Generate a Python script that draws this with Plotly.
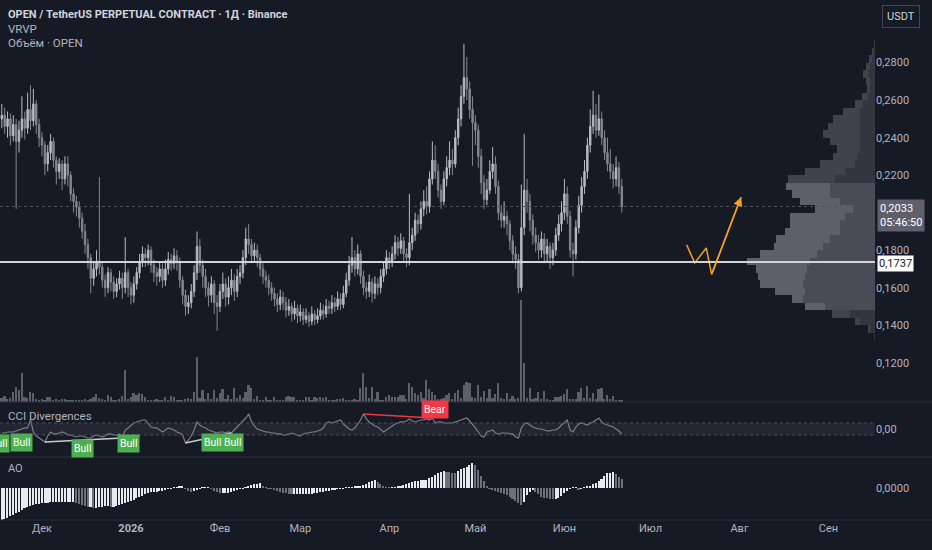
import pandas as pd
import plotly.graph_objects as go

BG = "#161a25"
TXT = "#b2b5be"
FONT = "Roboto"

# ---------------- data ----------------
dates = pd.date_range("2025-11-17", periods=217, freq="D")

opens = [
    0.250, 0.252, 0.246, 0.250, 0.241, 0.247, 0.238, 0.244, 0.250, 0.245,
    0.255, 0.249, 0.258, 0.247, 0.240, 0.236, 0.226, 0.232, 0.238, 0.228,
    0.222, 0.226, 0.218, 0.226, 0.220, 0.210, 0.206, 0.203, 0.197, 0.190,
    0.183, 0.176, 0.165, 0.170, 0.174, 0.171, 0.164, 0.160, 0.168, 0.163,
    0.158, 0.162, 0.165, 0.160, 0.168, 0.160, 0.156, 0.162, 0.168, 0.174,
    0.178, 0.176, 0.180, 0.172, 0.168, 0.166, 0.170, 0.164, 0.170, 0.175,
    0.173, 0.177, 0.174, 0.164, 0.156, 0.150, 0.152, 0.158, 0.168, 0.182,
    0.172, 0.166, 0.160, 0.156, 0.162, 0.152, 0.150, 0.158, 0.162, 0.155,
    0.160, 0.164, 0.158, 0.166, 0.168, 0.176, 0.186, 0.183, 0.177, 0.180,
    0.176, 0.170, 0.166, 0.164, 0.160, 0.157, 0.154, 0.151, 0.155, 0.152,
    0.148, 0.150, 0.146, 0.149, 0.145, 0.147, 0.143, 0.145, 0.142, 0.146,
    0.143, 0.145, 0.148, 0.146, 0.150, 0.149, 0.152, 0.150, 0.154, 0.151,
    0.157, 0.164, 0.172, 0.176, 0.170, 0.178, 0.166, 0.160, 0.158, 0.163,
    0.157, 0.162, 0.160, 0.166, 0.170, 0.176, 0.174, 0.178, 0.184, 0.181,
    0.185, 0.178, 0.176, 0.184, 0.188, 0.196, 0.194, 0.202, 0.206, 0.203,
    0.218, 0.228, 0.222, 0.212, 0.206, 0.218, 0.224, 0.228, 0.226, 0.240,
    0.250, 0.262, 0.272, 0.266, 0.255, 0.248, 0.244, 0.230, 0.216, 0.207,
    0.212, 0.222, 0.226, 0.214, 0.200, 0.196, 0.198, 0.194, 0.185, 0.178,
    0.175, 0.160, 0.192, 0.212, 0.206, 0.196, 0.188, 0.184, 0.180, 0.186,
    0.178, 0.182, 0.176, 0.180, 0.188, 0.194, 0.200, 0.210, 0.198, 0.180,
    0.178, 0.192, 0.204, 0.214, 0.222, 0.236, 0.246, 0.252, 0.244, 0.250,
    0.240, 0.232, 0.226, 0.222, 0.218, 0.224, 0.214,
]
highs = [
    0.258, 0.256, 0.254, 0.253, 0.252, 0.250, 0.249, 0.262, 0.254, 0.264,
    0.268, 0.266, 0.260, 0.250, 0.243, 0.238, 0.236, 0.242, 0.240, 0.230,
    0.229, 0.228, 0.230, 0.230, 0.222, 0.213, 0.209, 0.206, 0.200, 0.194,
    0.186, 0.178, 0.174, 0.180, 0.219, 0.174, 0.167, 0.171, 0.170, 0.166,
    0.165, 0.169, 0.168, 0.187, 0.170, 0.163, 0.166, 0.171, 0.178, 0.182,
    0.181, 0.183, 0.182, 0.175, 0.171, 0.174, 0.173, 0.175, 0.179, 0.178,
    0.181, 0.180, 0.176, 0.166, 0.159, 0.156, 0.162, 0.172, 0.190, 0.186,
    0.175, 0.170, 0.163, 0.166, 0.164, 0.156, 0.162, 0.168, 0.165, 0.166,
    0.170, 0.167, 0.170, 0.172, 0.180, 0.192, 0.194, 0.186, 0.184, 0.183,
    0.178, 0.173, 0.169, 0.167, 0.163, 0.160, 0.157, 0.159, 0.158, 0.155,
    0.154, 0.152, 0.153, 0.151, 0.151, 0.149, 0.149, 0.147, 0.150, 0.148,
    0.149, 0.152, 0.151, 0.154, 0.153, 0.156, 0.155, 0.158, 0.157, 0.161,
    0.168, 0.177, 0.187, 0.180, 0.183, 0.180, 0.169, 0.163, 0.167, 0.165,
    0.166, 0.165, 0.170, 0.174, 0.180, 0.179, 0.182, 0.188, 0.187, 0.189,
    0.187, 0.181, 0.210, 0.192, 0.200, 0.199, 0.206, 0.212, 0.214, 0.222,
    0.238, 0.236, 0.226, 0.215, 0.222, 0.230, 0.238, 0.234, 0.244, 0.256,
    0.268, 0.290, 0.283, 0.270, 0.262, 0.252, 0.247, 0.234, 0.220, 0.218,
    0.228, 0.235, 0.230, 0.217, 0.204, 0.206, 0.201, 0.196, 0.188, 0.182,
    0.178, 0.215, 0.242, 0.218, 0.210, 0.199, 0.192, 0.188, 0.190, 0.189,
    0.186, 0.184, 0.184, 0.192, 0.199, 0.206, 0.218, 0.214, 0.201, 0.184,
    0.196, 0.209, 0.219, 0.228, 0.240, 0.255, 0.265, 0.258, 0.263, 0.254,
    0.244, 0.240, 0.234, 0.226, 0.230, 0.227, 0.218,
]
lows = [
    0.245, 0.242, 0.240, 0.236, 0.238, 0.202, 0.232, 0.240, 0.239, 0.242,
    0.244, 0.246, 0.242, 0.235, 0.230, 0.220, 0.222, 0.228, 0.224, 0.215,
    0.218, 0.212, 0.215, 0.214, 0.206, 0.200, 0.198, 0.192, 0.186, 0.178,
    0.170, 0.157, 0.161, 0.166, 0.167, 0.160, 0.155, 0.157, 0.158, 0.154,
    0.155, 0.159, 0.154, 0.157, 0.155, 0.151, 0.152, 0.159, 0.165, 0.171,
    0.171, 0.172, 0.168, 0.163, 0.161, 0.163, 0.160, 0.161, 0.167, 0.169,
    0.170, 0.169, 0.160, 0.151, 0.145, 0.146, 0.149, 0.155, 0.164, 0.168,
    0.160, 0.155, 0.150, 0.152, 0.146, 0.137, 0.147, 0.154, 0.150, 0.151,
    0.156, 0.153, 0.155, 0.162, 0.165, 0.172, 0.178, 0.173, 0.174, 0.171,
    0.166, 0.162, 0.160, 0.156, 0.153, 0.150, 0.147, 0.148, 0.148, 0.144,
    0.145, 0.142, 0.143, 0.141, 0.142, 0.140, 0.141, 0.139, 0.140, 0.140,
    0.141, 0.143, 0.143, 0.144, 0.146, 0.146, 0.147, 0.148, 0.148, 0.149,
    0.155, 0.161, 0.168, 0.166, 0.167, 0.162, 0.156, 0.154, 0.155, 0.152,
    0.154, 0.156, 0.157, 0.163, 0.167, 0.170, 0.171, 0.175, 0.177, 0.178,
    0.174, 0.171, 0.172, 0.180, 0.185, 0.189, 0.191, 0.198, 0.199, 0.200,
    0.215, 0.218, 0.208, 0.202, 0.204, 0.214, 0.220, 0.220, 0.224, 0.236,
    0.246, 0.258, 0.260, 0.250, 0.225, 0.236, 0.224, 0.210, 0.202, 0.204,
    0.210, 0.218, 0.210, 0.196, 0.192, 0.192, 0.188, 0.180, 0.173, 0.170,
    0.157, 0.158, 0.188, 0.200, 0.190, 0.183, 0.179, 0.175, 0.176, 0.173,
    0.174, 0.170, 0.172, 0.177, 0.185, 0.190, 0.196, 0.194, 0.176, 0.166,
    0.175, 0.189, 0.200, 0.210, 0.218, 0.232, 0.242, 0.240, 0.241, 0.236,
    0.228, 0.222, 0.218, 0.213, 0.214, 0.210, 0.200,
]
closes = [
    0.252, 0.246, 0.250, 0.241, 0.247, 0.238, 0.244, 0.250, 0.245, 0.255,
    0.249, 0.258, 0.247, 0.240, 0.236, 0.226, 0.232, 0.238, 0.228, 0.222,
    0.226, 0.218, 0.226, 0.220, 0.210, 0.206, 0.203, 0.197, 0.190, 0.183,
    0.176, 0.165, 0.170, 0.174, 0.171, 0.164, 0.160, 0.168, 0.163, 0.158,
    0.162, 0.165, 0.160, 0.168, 0.160, 0.156, 0.162, 0.168, 0.174, 0.178,
    0.176, 0.180, 0.172, 0.168, 0.166, 0.170, 0.164, 0.170, 0.175, 0.173,
    0.177, 0.174, 0.164, 0.156, 0.150, 0.152, 0.158, 0.168, 0.182, 0.172,
    0.166, 0.160, 0.156, 0.162, 0.152, 0.150, 0.158, 0.162, 0.155, 0.160,
    0.164, 0.158, 0.166, 0.168, 0.176, 0.186, 0.183, 0.177, 0.180, 0.176,
    0.170, 0.166, 0.164, 0.160, 0.157, 0.154, 0.151, 0.155, 0.152, 0.148,
    0.150, 0.146, 0.149, 0.145, 0.147, 0.143, 0.145, 0.142, 0.146, 0.143,
    0.145, 0.148, 0.146, 0.150, 0.149, 0.152, 0.150, 0.154, 0.151, 0.157,
    0.164, 0.172, 0.176, 0.170, 0.178, 0.166, 0.160, 0.158, 0.163, 0.157,
    0.162, 0.160, 0.166, 0.170, 0.176, 0.174, 0.178, 0.184, 0.181, 0.185,
    0.178, 0.176, 0.184, 0.188, 0.196, 0.194, 0.202, 0.206, 0.203, 0.218,
    0.228, 0.222, 0.212, 0.206, 0.218, 0.224, 0.228, 0.226, 0.240, 0.250,
    0.262, 0.272, 0.266, 0.255, 0.248, 0.244, 0.230, 0.216, 0.207, 0.212,
    0.222, 0.226, 0.214, 0.200, 0.196, 0.198, 0.194, 0.185, 0.178, 0.175,
    0.160, 0.192, 0.212, 0.206, 0.196, 0.188, 0.184, 0.180, 0.186, 0.178,
    0.182, 0.176, 0.180, 0.188, 0.194, 0.200, 0.210, 0.198, 0.180, 0.178,
    0.192, 0.204, 0.214, 0.222, 0.236, 0.246, 0.252, 0.244, 0.250, 0.240,
    0.232, 0.226, 0.222, 0.218, 0.224, 0.214, 0.2033,
]
volume_m = [
    4, 6, 3, 4, 10, 15, 12, 29, 5, 4,
    10, 9, 3, 2, 3, 2, 5, 5, 2, 3,
    2, 3, 3, 2, 2, 2, 2, 2, 2, 3,
    2, 3, 5, 8, 4, 3, 2, 7, 5, 2,
    2, 3, 6, 32, 3, 5, 9, 7, 9, 8,
    5, 2, 2, 2, 3, 2, 2, 5, 2, 6,
    5, 2, 2, 2, 3, 4, 3, 10, 45, 4,
    12, 3, 9, 3, 12, 4, 9, 13, 3, 7,
    3, 14, 4, 7, 4, 10, 17, 14, 3, 6,
    2, 2, 5, 2, 2, 5, 2, 2, 2, 5,
    6, 5, 5, 2, 2, 2, 5, 5, 2, 5,
    4, 5, 4, 5, 2, 2, 2, 3, 3, 4,
    2, 2, 2, 3, 2, 14, 29, 15, 4, 15,
    3, 10, 2, 2, 5, 7, 5, 5, 5, 7,
    7, 3, 19, 15, 9, 7, 10, 4, 22, 13,
    10, 7, 3, 3, 4, 7, 9, 3, 9, 12,
    4, 17, 20, 19, 5, 4, 17, 5, 11, 4,
    13, 4, 8, 19, 4, 3, 9, 3, 6, 3,
    4, 102, 39, 4, 14, 3, 4, 10, 3, 11,
    3, 2, 2, 5, 5, 6, 8, 13, 3, 3,
    3, 10, 14, 4, 16, 4, 9, 3, 13, 14,
    3, 7, 3, 6, 2, 2, 2,
]
cci = [
    -67, -67, -50, -50, -50, -33, -17, 0, 17, 17,
    150, -50, -117, -150, -183, -217, -117, -50, -83, -83,
    -67, -50, -67, -100, -100, -117, -133, -117, -117, -133,
    -150, -150, -117, -100, -117, -133, -117, -83, -83, -100,
    -100, -83, -150, -17, 17, 67, 100, 117, 133, 150,
    150, 83, 33, 17, 17, -17, -50, -17, 17, 0,
    -17, -50, -67, -100, -233, -183, -117, -17, 117, 67,
    33, 17, -17, -33, -50, -67, -50, -50, -67, -50,
    -67, -17, 17, 67, 117, 183, 250, 117, 50, 0,
    -17, -33, -50, -50, -67, -67, -83, -83, -100, -100,
    -83, -67, -83, -100, -117, -83, -67, -67, -50, -50,
    -33, -17, 17, 100, 117, 100, 117, 133, 150, 83,
    33, 0, -17, 17, 83, 150, 250, 167, 117, 83,
    50, 33, -17, -50, -17, 17, 50, 83, 100, 117,
    117, 133, 167, 133, 117, 133, 150, 150, 167, 150,
    183, 100, 117, 117, 100, 100, 100, 100, 117, 133,
    150, 167, 183, 133, 83, 17, -50, -117, -133, -50,
    -33, -17, -67, -83, -67, -67, -67, -83, -83, -133,
    -150, 17, 83, 100, 67, 33, 17, 0, 0, -17,
    -33, -33, -17, -17, 17, 67, 117, 150, -17, -50,
    33, 83, 100, 83, 67, 100, 117, 150, 183, 117,
    83, 67, 50, 33, 0, -33, -83,
]
ao_milli = [
    -32, -31, -30, -28, -27, -25, -24, -22, -20, -19,
    -18, -17, -16, -16, -15, -15, -15, -14, -14, -14,
    -14, -14, -14, -14, -14, -14, -15, -16, -17, -18,
    -19, -19, -20, -20, -19, -19, -18, -18, -19, -19,
    -18, -17, -16, -15, -14, -13, -12, -10, -9, -8,
    -6, -5, -4, -4, -4, -3, -3, -2, -1, -0.5,
    0.3, 0.8, 1.2, 2, -1, -3, -4, -3, -2, -0.5,
    0.5, 1, 1, -1, -3, -4, -5, -5, -5, -4.5,
    -4, -3, -2, -1, -0.3, 1, 2, 3, 4, 4.5,
    5, 2, 1, -0.3, -1, -2, -3, -4, -4.5, -5,
    -5.5, -6, -6, -6, -6, -6, -6, -6, -6, -5,
    -4.5, -4, -3.5, -3, -2.5, -2, -1.5, -1, -0.5, -0.2,
    0.3, 0.6, 1, 1.2, 1.5, 2, 3, 4.5, 6, 7,
    8, 6, 4, 2.5, 1, 0.3, 0.6, 1, 1.5, 2,
    3, 4, 5, 6.5, 7, 7.5, 8, 8, 8.5, 10,
    11, 13, 15, 16, 17, 16.5, 16, 15.5, 15, 17,
    19, 20, 21, 23, 25, 23, 18, 12, 7, 2,
    -0.5, -1.5, -2.5, -3.5, -4.5, -5.5, -7, -8.5, -10.5, -13,
    -15, -17, -14, -7, -4, -2, -3.5, -6, -8.5, -9.5,
    -10, -10.5, -11, -10.5, -9.5, -7.5, -5, -3, -1, 0.5,
    1, -1.5, -0.5, 0.5, 1.5, 2.5, 4, 5.5, 7.5, 9.5,
    12, 15, 15.5, 16, 14, 11.5, 9,
]
ao = [v / 1000 for v in ao_milli]

# visible-range volume profile (price rows)
vp_price = [0.290, 0.286, 0.282, 0.278, 0.274, 0.270, 0.266, 0.262, 0.258, 0.254,
            0.250, 0.246, 0.242, 0.238, 0.234, 0.230, 0.226, 0.222, 0.218, 0.214,
            0.210, 0.206, 0.202, 0.198, 0.194, 0.190, 0.186, 0.182, 0.178, 0.174,
            0.170, 0.166, 0.162, 0.158, 0.154, 0.150, 0.146, 0.142, 0.138, 0.134]
vp_total = [1, 3, 6, 9, 12, 9, 8, 13, 20, 32,
            42, 47, 52, 45, 38, 42, 55, 70, 87, 89,
            83, 75, 60, 85, 85, 90, 99, 101, 115, 128,
            119, 117, 115, 100, 83, 70, 43, 20, 7, 1]
vp_up = [1, 2, 3, 5, 6, 5, 5, 7, 12, 15,
         15, 15, 15, 15, 15, 18, 20, 30, 40, 45,
         45, 35, 22, 30, 35, 35, 45, 52, 58, 65,
         68, 70, 72, 70, 72, 50, 25, 15, 5, 1]
value_area = (0.150, 0.2145)
poc_price = 0.1737
last_price = 0.2033

price_ticks = [0.12, 0.14, 0.16, 0.18, 0.22, 0.24, 0.26, 0.28]
price_tick_text = ["0,1200", "0,1400", "0,1600", "0,1800", "0,2200", "0,2400", "0,2600", "0,2800"]
month_ticks = ["2025-12-01", "2026-01-01", "2026-02-01", "2026-03-01", "2026-04-01",
               "2026-05-01", "2026-06-01", "2026-07-01", "2026-08-01", "2026-09-01"]
month_labels = ["Дек", "<b>2026</b>", "Фев", "Мар", "Апр", "Май", "Июн", "Июл", "Авг", "Сен"]

bull_pairs = [(15, 42), (64, 80)]
bear_pairs = [(126, 150)]
# (date, CCI level, text, horizontal pixel nudge)
bull_labels = [("2025-11-16 12:00", -250, "Bull", -2), ("2025-11-24", -233, "Bull", 0),
               ("2025-12-15", -317, "Bull", 0), ("2025-12-31", -250, "Bull", 0),
               ("2026-02-02", -233, "Bull Bull", 0)]
bear_labels = [("2026-04-17", 333, "Bear", 0)]

draw_dates = ["2026-07-13 14:00", "2026-07-16 10:00", "2026-07-20 10:00",
              "2026-07-22 07:00", "2026-08-01 14:00"]
draw_prices = [0.1828, 0.1732, 0.1812, 0.1671, 0.2084]

# ---------------- figure ----------------
fig = go.Figure()

lo, hi = value_area
vp_down = [t - u for t, u in zip(vp_total, vp_up)]
up_cols = ["#494c56" if lo <= p <= hi else "#33363f" for p in vp_price]
dn_cols = ["#5d6069" if lo <= p <= hi else "#40434c" for p in vp_price]
fig.add_trace(go.Bar(x=vp_up, y=vp_price, orientation="h", xaxis="x2", yaxis="y",
                     width=0.004, marker=dict(color=up_cols, line=dict(width=0)),
                     hoverinfo="skip"))
fig.add_trace(go.Bar(x=vp_down, y=vp_price, orientation="h", xaxis="x2", yaxis="y",
                     width=0.004, marker=dict(color=dn_cols, line=dict(width=0)),
                     hoverinfo="skip"))

fig.add_trace(go.Bar(x=dates, y=volume_m, xaxis="x", yaxis="y2",
                     width=0.6 * 86400000, marker=dict(color="#5d606b", line=dict(width=0))))

fig.add_trace(go.Candlestick(
    x=dates, open=opens, high=highs, low=lows, close=closes, xaxis="x", yaxis="y",
    increasing=dict(line=dict(color="#b8bbc2", width=1), fillcolor="#b8bbc2"),
    decreasing=dict(line=dict(color="#848791", width=1), fillcolor="#848791"),
    whiskerwidth=0))

fig.add_trace(go.Scatter(x=draw_dates, y=draw_prices, mode="lines", xaxis="x", yaxis="y",
                         line=dict(color="#f5a11c", width=1.5)))

# CCI
fig.add_trace(go.Scatter(x=dates, y=cci, mode="lines", xaxis="x", yaxis="y3",
                         line=dict(color="#7b7e88", width=1.2)))
for a, b in bull_pairs:
    fig.add_trace(go.Scatter(x=[dates[a], dates[b]], y=[cci[a], cci[b]], mode="lines",
                             xaxis="x", yaxis="y3", line=dict(color="#c8cad0", width=1.5)))
for a, b in bear_pairs:
    fig.add_trace(go.Scatter(x=[dates[a], dates[b]], y=[cci[a], cci[b]], mode="lines",
                             xaxis="x", yaxis="y3", line=dict(color="#f23645", width=1.5)))

# AO
ao_cols = ["#e8e9ec"] + ["#e8e9ec" if ao[i] >= ao[i - 1] else "#6e717b" for i in range(1, len(ao))]
fig.add_trace(go.Bar(x=dates, y=ao, xaxis="x", yaxis="y4", width=0.55 * 86400000,
                     marker=dict(color=ao_cols, line=dict(width=0))))

H = 520.0
d_price = [(H - 402) / H, 1]
d_cci = [(H - 457) / H, (H - 402) / H]
d_ao = [0, (H - 457) / H]
axfont = dict(color=TXT, size=11, family=FONT)

fig.update_layout(
    width=932, height=550,
    margin=dict(l=0, r=57, t=0, b=30),
    paper_bgcolor=BG, plot_bgcolor=BG,
    showlegend=False, barmode="stack", bargap=0,
    font=dict(family=FONT, color=TXT),
    xaxis=dict(domain=[0, 1], type="date", range=["2025-11-16 09:00", "2026-09-17 05:00"],
               anchor="y4", showgrid=False, zeroline=False, showline=False, ticks="",
               tickvals=month_ticks, ticktext=month_labels, tickfont=axfont,
               rangeslider=dict(visible=False)),
    xaxis2=dict(overlaying="x", range=[875, 0], visible=False, anchor="y"),
    yaxis=dict(domain=d_price, range=[0.09904, 0.3134], side="right", anchor="x",
               tickvals=price_ticks, ticktext=price_tick_text, showgrid=False,
               zeroline=False, ticks="", tickfont=axfont),
    yaxis2=dict(overlaying="y", range=[0, 402], visible=False),
    yaxis3=dict(domain=d_cci, range=[-467, 450], side="right", anchor="x",
                tickvals=[0], ticktext=["0,00"], showgrid=False, zeroline=False,
                ticks="", tickfont=axfont),
    yaxis4=dict(domain=d_ao, range=[-0.032, 0.031], side="right", anchor="x",
                tickvals=[0], ticktext=["0,0000"], showgrid=False, zeroline=False,
                ticks="", tickfont=axfont),
)

shapes = [
    dict(type="rect", xref="paper", yref="y3", x0=0, x1=1, y0=-100, y1=100,
         fillcolor="rgba(120,123,134,0.13)", line=dict(width=0), layer="below"),
    dict(type="line", xref="paper", yref="y3", x0=0, x1=1, y0=100, y1=100,
         line=dict(color="#4a4e59", width=1, dash="dot")),
    dict(type="line", xref="paper", yref="y3", x0=0, x1=1, y0=-100, y1=-100,
         line=dict(color="#4a4e59", width=1, dash="dot")),
    dict(type="line", xref="paper", yref="y", x0=0, x1=1, y0=last_price, y1=last_price,
         line=dict(color="#4f525c", width=1, dash="dot")),
    dict(type="line", xref="paper", yref="y", x0=0, x1=1, y0=poc_price, y1=poc_price,
         line=dict(color="#d1d4dc", width=2)),
]
for yy in [d_price[0], d_cci[0]]:
    shapes.append(dict(type="line", xref="paper", yref="paper", x0=0, x1=932 / 875,
                       y0=yy, y1=yy, line=dict(color="#2a2e39", width=1)))
shapes.append(dict(type="line", xref="paper", yref="paper", x0=0, x1=932 / 875,
                   y0=0, y1=0, line=dict(color="#2a2e39", width=1)))
fig.update_layout(shapes=shapes)

ann = []
def text(x_px, y_px, s, size=11, color=TXT):
    ann.append(dict(xref="paper", yref="paper", x=x_px / 875, y=(H - y_px) / H, text=s,
                    showarrow=False, xanchor="left", yanchor="middle",
                    font=dict(size=size, color=color, family=FONT)))

text(6, 14, "<b>OPEN / TetherUS PERPETUAL CONTRACT · 1Д · Binance</b>", 11, "#d1d4dc")
text(6, 29, "VRVP", 11.5, "#b2b5be")
text(6, 43, "Объём · OPEN", 11.5, "#b2b5be")
text(6, 416, "CCI Divergences", 11.5, "#b2b5be")
text(6, 468, "AO", 11, "#b2b5be")

ann.append(dict(xref="paper", yref="paper", x=901 / 875, y=(H - 16) / H, text="USDT",
                showarrow=False, xanchor="center", yanchor="middle", bgcolor=BG,
                bordercolor="#434651", borderwidth=1, borderpad=4,
                font=dict(size=11, color="#d1d4dc", family=FONT)))
ann.append(dict(xref="paper", yref="y", x=1, y=last_price, xshift=2, yshift=7,
                text="0,2033<br>05:46:50", align="left", showarrow=False,
                xanchor="left", yanchor="top", bgcolor="#5d606b", borderpad=2,
                font=dict(size=11, color="#ffffff", family=FONT)))
ann.append(dict(xref="paper", yref="y", x=1, y=poc_price, xshift=2, yshift=-2,
                text="0,1737", showarrow=False, xanchor="left", yanchor="middle",
                bgcolor="#ffffff", borderpad=1,
                font=dict(size=11, color="#131722", family=FONT)))

for d, v, s, nudge in bull_labels:
    ann.append(dict(xref="x", yref="y3", x=d, y=v, text=s, showarrow=False, xshift=nudge,
                    xanchor="center", yanchor="middle", bgcolor="#4caf50", borderpad=2,
                    font=dict(size=10.5, color="#ffffff", family=FONT)))
for d, v, s, nudge in bear_labels:
    ann.append(dict(xref="x", yref="y3", x=d, y=v, text=s, showarrow=False, xshift=nudge,
                    xanchor="center", yanchor="middle", bgcolor="#f23645", borderpad=2,
                    font=dict(size=10.5, color="#ffffff", family=FONT)))

ann.append(dict(xref="x", yref="y", x=draw_dates[-1], y=draw_prices[-1],
                axref="x", ayref="y", ax=draw_dates[-2], ay=draw_prices[-2],
                text="", showarrow=True, arrowhead=2, arrowsize=1.2, arrowwidth=1.5,
                arrowcolor="#f5a11c"))
fig.update_layout(annotations=ann)

fig.write_html("out.html", config={"displayModeBar": False},
               post_script="document.body.style.margin='0';document.body.style.overflow='hidden';")
